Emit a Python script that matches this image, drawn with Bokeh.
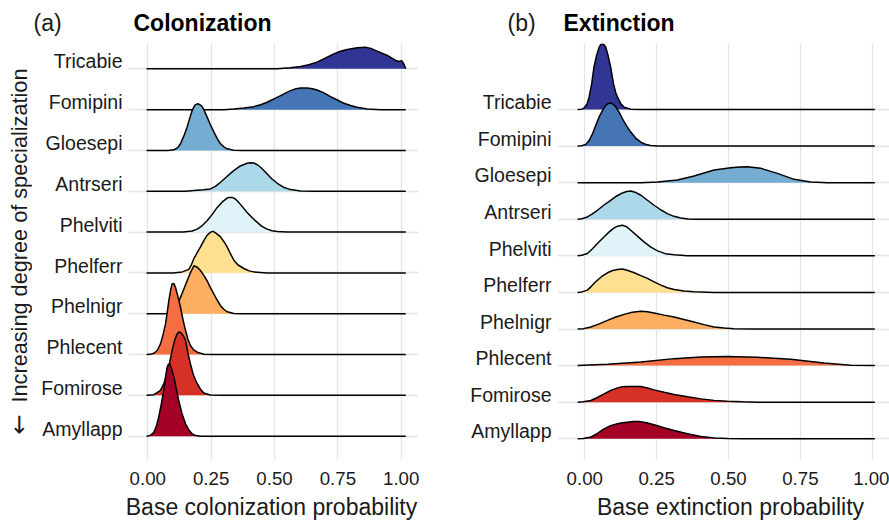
from bokeh.plotting import figure
from bokeh.models import FixedTicker, CustomJSTickFormatter, Range1d
from bokeh.layouts import row, column
from bokeh.core.properties import value
from bokeh.embed import file_html
from bokeh.resources import INLINE
import math

FONT = "Liberation Sans"

# Species, top to bottom
SPECIES = ["Tricabie", "Fomipini", "Gloesepi", "Antrseri", "Phelviti",
           "Phelferr", "Phelnigr", "Phlecent", "Fomirose", "Amyllapp"]
COLORS = ["#313695", "#4575b4", "#74add1", "#abd9e9", "#e0f3f8",
          "#fee090", "#fdae61", "#f46d43", "#d73027", "#a50026"]
X_TICKS = [0.0, 0.25, 0.5, 0.75, 1.0]
X_TICK_LABELS = ["0.00", "0.25", "0.50", "0.75", "1.00"]
PANEL_TAGS = ["(a)", "(b)"]
PANEL_TITLES = ["Colonization", "Extinction"]
X_TITLES = ["Base colonization probability", "Base extinction probability"]
Y_ARROW = "\u2190"
Y_TITLE = "Increasing degree of specialization"

# ---- (a) Colonization: ridge heights (in row-spacing units)
COL_TRICABIE_X = [-0.005, 0.51, 0.563, 0.603, 0.635, 0.668, 0.70, 0.734, 0.76, 0.787, 0.826, 0.859, 0.88, 0.905, 0.945, 0.978, 0.991, 1.002, 1.01, 1.018]
COL_TRICABIE_H = [0, 0, 0.024, 0.057, 0.10, 0.163, 0.26, 0.367, 0.43, 0.473, 0.514, 0.531, 0.50, 0.433, 0.327, 0.204, 0.18, 0.20, 0.12, 0]
COL_FOMIPINI_X = [-0.005, 0.30, 0.339, 0.38, 0.418, 0.445, 0.471, 0.50, 0.524, 0.545, 0.563, 0.585, 0.603, 0.629, 0.65, 0.668, 0.695, 0.721, 0.75, 0.774, 0.80, 0.826, 0.866, 0.918, 1.018]
COL_FOMIPINI_H = [0, 0, 0.016, 0.04, 0.073, 0.12, 0.18, 0.27, 0.343, 0.41, 0.465, 0.51, 0.531, 0.531, 0.51, 0.482, 0.41, 0.318, 0.23, 0.155, 0.10, 0.057, 0.016, 0, 0]
COL_GLOESEPI_X = [-0.005, 0.08, 0.103, 0.118, 0.129, 0.142, 0.155, 0.165, 0.175, 0.186, 0.197, 0.206, 0.214, 0.224, 0.234, 0.247, 0.261, 0.274, 0.287, 0.30, 0.313, 0.339, 0.37, 1.018]
COL_GLOESEPI_H = [0, 0, 0.016, 0.07, 0.163, 0.35, 0.571, 0.78, 0.98, 1.11, 1.143, 1.12, 1.078, 0.96, 0.816, 0.63, 0.449, 0.29, 0.163, 0.09, 0.041, 0.005, 0, 0]
COL_ANTRSERI_X = [-0.005, 0.15, 0.182, 0.22, 0.247, 0.267, 0.287, 0.31, 0.339, 0.365, 0.392, 0.405, 0.418, 0.432, 0.445, 0.458, 0.471, 0.49, 0.511, 0.535, 0.563, 0.603, 0.655, 1.018]
COL_ANTRSERI_H = [0, 0, 0.016, 0.035, 0.057, 0.12, 0.22, 0.35, 0.506, 0.62, 0.686, 0.70, 0.694, 0.65, 0.588, 0.51, 0.424, 0.30, 0.196, 0.10, 0.041, 0.008, 0, 0]
COL_PHELVITI_X = [-0.005, 0.14, 0.175, 0.195, 0.215, 0.234, 0.255, 0.274, 0.294, 0.313, 0.323, 0.333, 0.343, 0.353, 0.372, 0.392, 0.412, 0.432, 0.45, 0.471, 0.49, 0.511, 0.55, 1.018]
COL_PHELVITI_H = [0, 0, 0.025, 0.073, 0.16, 0.278, 0.44, 0.604, 0.74, 0.833, 0.85, 0.849, 0.82, 0.767, 0.63, 0.482, 0.35, 0.237, 0.14, 0.073, 0.035, 0.016, 0, 0]
COL_PHELFERR_X = [-0.005, 0.10, 0.136, 0.162, 0.172, 0.182, 0.195, 0.208, 0.22, 0.234, 0.248, 0.258, 0.27, 0.287, 0.30, 0.313, 0.326, 0.339, 0.355, 0.379, 0.40, 0.418, 0.471, 1.018]
COL_PHELFERR_H = [0, 0, 0.025, 0.086, 0.20, 0.353, 0.50, 0.637, 0.78, 0.923, 1.0, 1.02, 0.97, 0.882, 0.77, 0.637, 0.47, 0.318, 0.20, 0.108, 0.05, 0.025, 0, 0]
COL_PHELNIGR_X = [-0.005, 0.06, 0.076, 0.103, 0.115, 0.129, 0.142, 0.155, 0.168, 0.182, 0.195, 0.208, 0.221, 0.234, 0.247, 0.261, 0.274, 0.287, 0.30, 0.313, 0.339, 0.366, 1.018]
COL_PHELNIGR_H = [0, 0, 0.005, 0.073, 0.20, 0.40, 0.60, 0.808, 1.0, 1.176, 1.14, 1.057, 0.94, 0.808, 0.64, 0.482, 0.33, 0.196, 0.11, 0.049, 0.008, 0, 0]
COL_PHLECENT_X = [-0.005, 0.01, 0.024, 0.037, 0.05, 0.06, 0.07, 0.077, 0.083, 0.09, 0.096, 0.103, 0.109, 0.119, 0.129, 0.139, 0.149, 0.158, 0.168, 0.18, 0.195, 0.221, 0.261, 1.018]
COL_PHLECENT_H = [0, 0.005, 0.033, 0.10, 0.261, 0.48, 0.751, 1.05, 1.322, 1.58, 1.731, 1.74, 1.649, 1.42, 1.159, 0.85, 0.588, 0.38, 0.22, 0.12, 0.057, 0.008, 0, 0]
COL_FOMIROSE_X = [-0.005, 0.024, 0.05, 0.063, 0.076, 0.086, 0.096, 0.106, 0.115, 0.122, 0.13, 0.14, 0.149, 0.158, 0.168, 0.18, 0.195, 0.208, 0.221, 0.247, 0.287, 1.018]
COL_FOMIROSE_H = [0, 0.016, 0.122, 0.28, 0.53, 0.80, 1.102, 1.35, 1.50, 1.551, 1.54, 1.46, 1.347, 1.05, 0.776, 0.50, 0.286, 0.15, 0.057, 0.008, 0, 0]
COL_AMYLLAPP_X = [-0.005, 0.01, 0.024, 0.034, 0.043, 0.053, 0.063, 0.07, 0.076, 0.081, 0.086, 0.094, 0.103, 0.112, 0.122, 0.135, 0.149, 0.162, 0.175, 0.19, 0.208, 1.018]
COL_AMYLLAPP_H = [0, 0.02, 0.098, 0.25, 0.465, 0.78, 1.118, 1.45, 1.68, 1.76, 1.771, 1.65, 1.445, 1.17, 0.873, 0.55, 0.302, 0.15, 0.057, 0.015, 0, 0]

# ---- (b) Extinction
EXT_TRICABIE_X = [-0.025, -0.01, -0.002, 0.008, 0.015, 0.024, 0.032, 0.041, 0.05, 0.056, 0.061, 0.067, 0.073, 0.081, 0.09, 0.10, 0.108, 0.114, 0.125, 0.137, 0.16, 0.195, 1.009]
EXT_TRICABIE_H = [0, 0.01, 0.046, 0.15, 0.337, 0.70, 1.157, 1.48, 1.703, 1.78, 1.794, 1.77, 1.703, 1.48, 1.157, 0.70, 0.45, 0.337, 0.16, 0.064, 0.009, 0, 0]
EXT_FOMIPINI_X = [-0.025, -0.01, 0.003, 0.015, 0.027, 0.038, 0.05, 0.062, 0.073, 0.082, 0.09, 0.099, 0.108, 0.12, 0.131, 0.145, 0.16, 0.177, 0.195, 0.21, 0.229, 0.253, 1.009]
EXT_FOMIPINI_H = [0, 0.01, 0.046, 0.15, 0.337, 0.56, 0.797, 0.98, 1.111, 1.165, 1.175, 1.14, 1.066, 0.92, 0.747, 0.56, 0.383, 0.22, 0.109, 0.05, 0.018, 0, 0]
EXT_GLOESEPI_X = [-0.025, 0.195, 0.253, 0.322, 0.38, 0.45, 0.508, 0.54, 0.565, 0.612, 0.67, 0.728, 0.786, 0.844, 1.009]
EXT_GLOESEPI_H = [0, 0, 0.018, 0.073, 0.182, 0.346, 0.41, 0.43, 0.437, 0.392, 0.255, 0.091, 0.018, 0, 0]
EXT_ANTRSERI_X = [-0.025, -0.01, 0.009, 0.025, 0.044, 0.067, 0.09, 0.11, 0.131, 0.146, 0.16, 0.178, 0.195, 0.218, 0.241, 0.264, 0.287, 0.31, 0.334, 0.36, 0.38, 1.009]
EXT_ANTRSERI_H = [0, 0.015, 0.064, 0.14, 0.246, 0.39, 0.519, 0.63, 0.719, 0.76, 0.774, 0.73, 0.656, 0.52, 0.383, 0.26, 0.155, 0.08, 0.036, 0.01, 0, 0]
EXT_PHELVITI_X = [-0.025, -0.01, 0.009, 0.025, 0.044, 0.065, 0.085, 0.10, 0.114, 0.131, 0.145, 0.16, 0.183, 0.206, 0.23, 0.253, 0.28, 0.311, 0.357, 1.009]
EXT_PHELVITI_H = [0, 0.015, 0.064, 0.18, 0.337, 0.50, 0.656, 0.75, 0.811, 0.838, 0.80, 0.701, 0.54, 0.383, 0.24, 0.137, 0.06, 0.027, 0, 0]
EXT_PHELFERR_X = [-0.025, -0.01, 0.009, 0.022, 0.038, 0.058, 0.079, 0.097, 0.114, 0.131, 0.15, 0.172, 0.195, 0.218, 0.241, 0.265, 0.287, 0.311, 0.345, 0.38, 0.45, 1.009]
EXT_PHELFERR_H = [0, 0.015, 0.064, 0.16, 0.291, 0.43, 0.537, 0.60, 0.628, 0.638, 0.60, 0.537, 0.46, 0.383, 0.29, 0.20, 0.13, 0.082, 0.04, 0.018, 0, 0]
EXT_PHELNIGR_X = [-0.025, -0.005, 0.021, 0.05, 0.079, 0.108, 0.137, 0.165, 0.195, 0.218, 0.241, 0.276, 0.311, 0.345, 0.38, 0.415, 0.45, 0.485, 0.519, 0.589, 1.009]
EXT_PHELNIGR_H = [0, 0.01, 0.055, 0.14, 0.237, 0.33, 0.401, 0.46, 0.483, 0.47, 0.437, 0.38, 0.328, 0.26, 0.191, 0.12, 0.055, 0.025, 0.009, 0, 0]
EXT_PHLECENT_X = [-0.025, 0.079, 0.195, 0.311, 0.404, 0.496, 0.60, 0.716, 0.832, 0.925, 1.009]
EXT_PHLECENT_H = [0, 0.036, 0.10, 0.191, 0.237, 0.246, 0.228, 0.173, 0.073, 0.009, 0]
EXT_FOMIROSE_X = [-0.025, -0.005, 0.021, 0.044, 0.067, 0.09, 0.114, 0.13, 0.148, 0.172, 0.195, 0.218, 0.241, 0.276, 0.311, 0.357, 0.404, 0.45, 0.496, 0.55, 0.60, 1.009]
EXT_FOMIROSE_H = [0, 0.01, 0.046, 0.13, 0.228, 0.32, 0.392, 0.42, 0.428, 0.43, 0.428, 0.39, 0.337, 0.27, 0.209, 0.15, 0.091, 0.05, 0.027, 0.01, 0, 0]
EXT_AMYLLAPP_X = [-0.025, -0.005, 0.021, 0.044, 0.067, 0.09, 0.114, 0.131, 0.148, 0.17, 0.189, 0.215, 0.241, 0.276, 0.311, 0.357, 0.404, 0.45, 0.496, 0.55, 1.009]
EXT_AMYLLAPP_H = [0, 0.01, 0.046, 0.15, 0.273, 0.36, 0.41, 0.44, 0.455, 0.47, 0.474, 0.44, 0.383, 0.30, 0.228, 0.14, 0.064, 0.025, 0.009, 0, 0]

COL_X = [COL_TRICABIE_X, COL_FOMIPINI_X, COL_GLOESEPI_X, COL_ANTRSERI_X, COL_PHELVITI_X,
         COL_PHELFERR_X, COL_PHELNIGR_X, COL_PHLECENT_X, COL_FOMIROSE_X, COL_AMYLLAPP_X]
COL_H = [COL_TRICABIE_H, COL_FOMIPINI_H, COL_GLOESEPI_H, COL_ANTRSERI_H, COL_PHELVITI_H,
         COL_PHELFERR_H, COL_PHELNIGR_H, COL_PHLECENT_H, COL_FOMIROSE_H, COL_AMYLLAPP_H]
EXT_X = [EXT_TRICABIE_X, EXT_FOMIPINI_X, EXT_GLOESEPI_X, EXT_ANTRSERI_X, EXT_PHELVITI_X,
         EXT_PHELFERR_X, EXT_PHELNIGR_X, EXT_PHLECENT_X, EXT_FOMIROSE_X, EXT_AMYLLAPP_X]
EXT_H = [EXT_TRICABIE_H, EXT_FOMIPINI_H, EXT_GLOESEPI_H, EXT_ANTRSERI_H, EXT_PHELVITI_H,
         EXT_PHELFERR_H, EXT_PHELNIGR_H, EXT_PHLECENT_H, EXT_FOMIROSE_H, EXT_AMYLLAPP_H]

TEXT = "#1a1a1a"
GRID = "#e4e4e4"
W, H = 889, 524
STRIP_W = 32
HEADER_H = 43
PANEL_H = 452          # frame 416 + 36 for tick labels
FOOTER_H = H - HEADER_H - PANEL_H


def blank_canvas(w, h):
    p = figure(width=w, height=h, output_backend="svg", toolbar_location=None,
               x_range=Range1d(0, w), y_range=Range1d(0, h),
               x_axis_location=None, y_axis_location=None,
               min_border_left=0, min_border_right=0, min_border_top=0, min_border_bottom=0)
    p.outline_line_color = None
    p.xgrid.visible = False
    p.ygrid.visible = False
    p.background_fill_color = "white"
    p.border_fill_color = "white"
    return p


def ridge_panel(width, left, right, xr, yr, xs_list, hs_list, label_off):
    p = figure(width=width, height=PANEL_H, output_backend="svg", toolbar_location=None,
               x_range=Range1d(*xr), y_range=Range1d(*yr),
               min_border_left=left, min_border_right=right,
               min_border_top=0, min_border_bottom=PANEL_H - 416)
    p.outline_line_color = None
    p.background_fill_color = "white"
    p.border_fill_color = "white"
    n = len(SPECIES)
    # ridges: drawn from top row to bottom row so lower rows overlap upper ones
    for i, (col, xs, hs) in enumerate(zip(COLORS, xs_list, hs_list)):
        base = n - i
        ys = [base + h for h in hs]
        p.patch(xs + [xs[-1], xs[0]], ys + [base, base], fill_color=col,
                line_color=None, fill_alpha=1.0)
        p.line(xs, ys, line_color="black", line_width=1.5)
    # grids
    p.xgrid.ticker = FixedTicker(ticks=X_TICKS)
    p.ygrid.ticker = FixedTicker(ticks=list(range(1, n + 1)))
    for g in (p.xgrid, p.ygrid):
        g.grid_line_color = GRID
        g.grid_line_width = 1.3
        g.level = "underlay"
    # x axis (tick labels only; titles are in the footer strip)
    xa = p.xaxis[0]
    xa.ticker = FixedTicker(ticks=X_TICKS)
    xa.major_label_overrides = {t: s for t, s in zip(X_TICKS, X_TICK_LABELS)}
    xa.axis_line_color = None
    xa.major_tick_line_color = None
    xa.minor_tick_line_color = None
    xa.major_tick_out = 0
    xa.major_label_standoff = 12
    xa.major_label_text_font = FONT
    xa.major_label_text_font_size = "18.7px"
    xa.major_label_text_color = TEXT
    # y axis with species names (labels sit just above each ridge baseline)
    ya = p.yaxis[0]
    ya.ticker = FixedTicker(ticks=[k + label_off for k in range(1, n + 1)])
    ya.formatter = CustomJSTickFormatter(
        args=dict(names=list(reversed(SPECIES))),
        code="return names[Math.round(tick) - 1];")
    ya.axis_line_color = None
    ya.major_tick_line_color = None
    ya.minor_tick_line_color = None
    ya.major_tick_out = 0
    ya.major_label_standoff = 6
    ya.major_label_text_font = FONT
    ya.major_label_text_font_size = "19.5px"
    ya.major_label_text_color = TEXT
    return p


# left strip (full height) with rotated y title: text reads bottom to top
ystrip = blank_canvas(STRIP_W, H)
ystrip.text(x=[19], y=[H - 402], text=[Y_TITLE], angle=math.pi / 2,
            text_font=value(FONT), text_font_size="21.7px", text_color=TEXT,
            text_baseline="middle", text_align="left")
ystrip.text(x=[18], y=[H - 434], text=[Y_ARROW], angle=math.pi / 2,
            text_font=value("DejaVu Sans"), text_font_size="24px", text_color=TEXT,
            text_baseline="middle", text_align="left")

# header strip with panel tags and titles (cap centre at y = 22.5)
header = blank_canvas(W - STRIP_W, HEADER_H)
header.text(x=[33 - STRIP_W, 507 - STRIP_W], y=[HEADER_H - 22.5] * 2, text=PANEL_TAGS,
            text_font=value(FONT), text_font_size="23px", text_color=TEXT,
            text_baseline="middle", text_align="left")
header.text(x=[133 - STRIP_W, 563 - STRIP_W], y=[HEADER_H - 22.5] * 2, text=PANEL_TITLES,
            text_font=value(FONT), text_font_size="23px", text_font_style="bold",
            text_color="black", text_baseline="middle", text_align="left")

pa = ridge_panel(440 - STRIP_W, 128 - STRIP_W, 22, (-0.0762, 1.0682), (0.429, 10.62),
                 COL_X, COL_H, 0.18)
pb = ridge_panel(449, 117, 0, (-0.0949, 1.060), (0.434, 11.804),
                 EXT_X, EXT_H, 0.20)

# footer strip with the x titles (cap centre at y = 506.3)
footer = blank_canvas(W - STRIP_W, FOOTER_H)
footer.text(x=[271 - STRIP_W, 730 - STRIP_W], y=[H - 506.3] * 2, text=X_TITLES,
            text_font=value(FONT), text_font_size="23px", text_color=TEXT,
            text_baseline="middle", text_align="center")

layout = row(ystrip, column(header, row(pa, pb), footer))
open("out.html", "w").write(file_html(layout, INLINE))
